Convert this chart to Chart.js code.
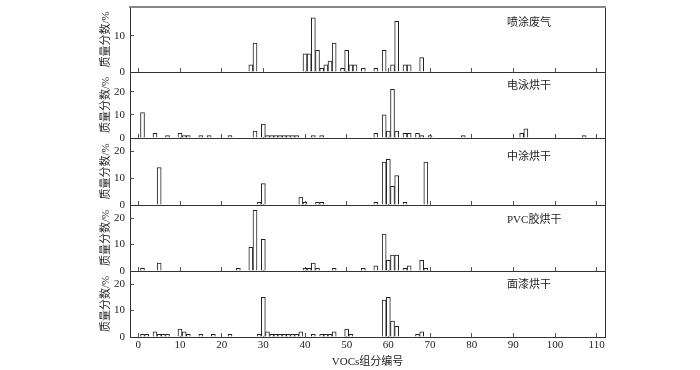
<!DOCTYPE html>
<html>
<head>
<meta charset="utf-8">
<script src="https://cdn.jsdelivr.net/npm/chart.js@4"></script>
<style>
  body { margin: 0; background: #fff; }
  #wrap { position: relative; width: 700px; height: 370px; }
  #wrap canvas { position: absolute; left: 0; top: 0; }
</style>
</head>
<body>
<div id="wrap">
  <canvas id="p0" width="700" height="370"></canvas>
  <canvas id="p1" width="700" height="370"></canvas>
  <canvas id="p2" width="700" height="370"></canvas>
  <canvas id="p3" width="700" height="370"></canvas>
  <canvas id="p4" width="700" height="370"></canvas>
</div>
<script>
// 各工序排放VOCs组分质量分数（%），横轴为组分编号
const panelNames = ['喷涂废气', '电泳烘干', '中涂烘干', 'PVC胶烘干', '面漆烘干'];
const yMax = [18, 28.5, 25, 25, 25];

const sprayIds  = [27, 28, 40, 41, 42, 43, 44, 45, 46, 47, 49, 50, 51, 52, 54, 57, 59, 61, 62, 64, 65, 68];
const sprayVals = [2, 8, 5, 5, 15, 6, 1, 2, 3, 8, 1, 6, 2, 2, 1, 1, 6, 2, 14, 2, 2, 4];

const edIds  = [1, 4, 7, 10, 11, 12, 15, 17, 22, 28, 30, 31, 32, 33, 34, 35, 36, 37, 38, 42, 44,
                57, 59, 60, 61, 62, 64, 65, 67, 68, 70, 78, 92, 93, 107];
const edVals = [11, 2, 1, 2, 1, 1, 1, 1, 1, 3, 6, 1, 1, 1, 1, 1, 1, 1, 1, 1, 1,
                2, 10, 3, 21, 3, 2, 2, 2, 1, 1, 1, 2, 4, 1];

const midIds  = [5, 29, 30, 39, 40, 43, 44, 57, 59, 60, 61, 62, 64, 69];
const midVals = [14, 1, 8, 3, 1, 1, 1, 1, 16, 17, 7, 11, 1, 16];

const pvcIds  = [1, 5, 24, 27, 28, 30, 40, 41, 42, 43, 47, 54, 57, 59, 60, 61, 62, 64, 65, 68, 69];
const pvcVals = [1, 3, 1, 9, 23, 12, 1, 1, 3, 1, 1, 1, 2, 14, 4, 6, 6, 1, 2, 4, 1];

const topIds  = [1, 2, 4, 5, 6, 7, 10, 11, 12, 15, 18, 22, 29, 30, 31, 32, 33, 34, 35, 36, 37, 38, 39,
                 42, 44, 45, 46, 47, 50, 51, 59, 60, 61, 62, 67, 68];
const topVals = [1, 1, 2, 1, 1, 1, 3, 2, 1, 1, 1, 1, 1, 15, 2, 1, 1, 1, 1, 1, 1, 1, 2,
                 1, 1, 1, 1, 2, 3, 1, 14, 15, 6, 4, 1, 2];

const allIds = [sprayIds, edIds, midIds, pvcIds, topIds];
const allVals = [sprayVals, edVals, midVals, pvcVals, topVals];

const fontFamily = '"Liberation Serif", "Noto Sans CJK SC", serif';
Chart.defaults.font.family = fontFamily;
Chart.defaults.font.size = 11;
Chart.defaults.color = '#222';

// 各子图绘图区上下边界（像素）
const panelTop = [7, 72, 138, 205, 271];
const panelBottom = [72, 138, 205, 271, 337];
const nameDy = [16, 14, 19, 15, 14];

const nameLabel = {
  id: 'nameLabel',
  afterDraw(chart, args, opts) {
    const { ctx, chartArea } = chart;
    ctx.save();
    ctx.font = '11px ' + fontFamily;
    ctx.fillStyle = '#222';
    ctx.textBaseline = 'middle';
    ctx.fillText(opts.text, chartArea.right - 98, chartArea.top + opts.dy);
    ctx.restore();
  }
};

panelNames.forEach((name, i) => {
  const last = i === panelNames.length - 1;
  const scales = {
    x: {
      type: 'linear', min: -2, max: 112, offset: false,
      afterFit: s => { s.height = 370 - panelBottom[i]; },
      ticks: { display: last, stepSize: 10, includeBounds: false, padding: 6, maxRotation: 0 },
      grid: { drawOnChartArea: false, tickLength: -4, color: '#555', offset: false },
      border: { color: '#333' },
      title: { display: last, text: 'VOCs组分编号', padding: { top: 0, bottom: 1 } }
    },
    y: {
      min: 0, max: yMax[i],
      afterFit: s => { s.width = 35; s.paddingTop = 0; s.paddingBottom = 0; },
      ticks: { stepSize: 10, includeBounds: false, padding: 9 },
      grid: { drawOnChartArea: false, tickLength: -4, color: '#555' },
      border: { color: '#333' },
      title: { display: true, text: '质量分数/%', padding: { top: 5, bottom: 0 } }
    },
    yr: {
      position: 'right',
      afterFit: s => { s.width = 0; s.paddingTop = 0; s.paddingBottom = 0; },
      ticks: { display: false },
      grid: { drawOnChartArea: false, drawTicks: false },
      border: { color: '#333' }
    }
  };
  if (i === 0) {
    scales.xt = {
      type: 'linear', position: 'top', min: -2, max: 112, offset: false,
      afterFit: s => { s.height = 0; },
      ticks: { display: false },
      grid: { drawOnChartArea: false, drawTicks: false },
      border: { color: '#888', width: 2 }
    };
  }

  new Chart(document.getElementById('p' + i), {
    type: 'bar',
    data: {
      datasets: [{
        label: name,
        data: allIds[i].map((x, k) => ({ x: x, y: allVals[i][k] })),
        backgroundColor: '#fff',
        borderColor: '#222',
        borderWidth: 1,
        barThickness: 4
      }]
    },
    options: {
      responsive: false,
      animation: false,
      layout: { padding: { left: 95, right: 95, top: panelTop[i], bottom: 0 } },
      plugins: {
        legend: { display: false },
        tooltip: { enabled: false },
        nameLabel: { text: name, dy: nameDy[i] }
      },
      scales: scales
    },
    plugins: [nameLabel]
  });
});
</script>
</body>
</html>
